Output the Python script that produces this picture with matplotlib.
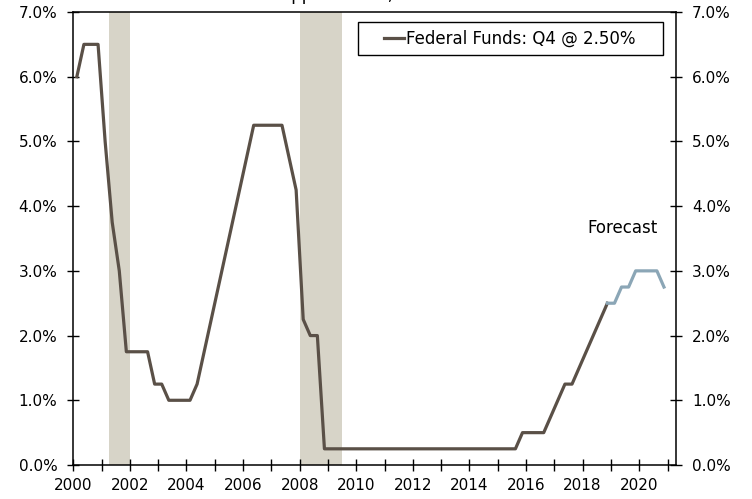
import numpy as np
import matplotlib
matplotlib.use("Agg")
import matplotlib.pyplot as plt
from matplotlib.ticker import MultipleLocator, FuncFormatter
from matplotlib.patches import Rectangle

# quarterly fed funds upper bound, 2000Q1 - 2018Q4
fed_funds = [
    6.00, 6.50, 6.50, 6.50,   # 2000
    5.00, 3.75, 3.00, 1.75,   # 2001
    1.75, 1.75, 1.75, 1.25,   # 2002
    1.25, 1.00, 1.00, 1.00,   # 2003
    1.00, 1.25, 1.75, 2.25,   # 2004
    2.75, 3.25, 3.75, 4.25,   # 2005
    4.75, 5.25, 5.25, 5.25,   # 2006
    5.25, 5.25, 4.75, 4.25,   # 2007
    2.25, 2.00, 2.00, 0.25,   # 2008
    0.25, 0.25, 0.25, 0.25,   # 2009
    0.25, 0.25, 0.25, 0.25,   # 2010
    0.25, 0.25, 0.25, 0.25,   # 2011
    0.25, 0.25, 0.25, 0.25,   # 2012
    0.25, 0.25, 0.25, 0.25,   # 2013
    0.25, 0.25, 0.25, 0.25,   # 2014
    0.25, 0.25, 0.25, 0.50,   # 2015
    0.50, 0.50, 0.50, 0.75,   # 2016
    1.00, 1.25, 1.25, 1.50,   # 2017
    1.75, 2.00, 2.25, 2.50,   # 2018
]
# forecast 2018Q4 - 2020Q4
forecast = [2.50, 2.50, 2.75, 2.75, 3.00, 3.00, 3.00, 3.00, 2.75]

recessions = [(2001.25, 2002.0), (2008.0, 2009.5)]

legend_label = "Federal Funds: Q4 @ 2.50%"
title_text = "Upper Bound, Percent"

line_color = "#5a5047"
fc_color = "#8ba6b6"
shade_color = "#d7d4c8"

x_hist = 2000 + np.arange(len(fed_funds)) / 4 + 0.125
x_fc = x_hist[-1] + np.arange(len(forecast)) / 4

plt.rcParams['font.family'] = ['DejaVu Sans']

fig = plt.figure(figsize=(7.52, 4.99), dpi=100)
ax = fig.add_axes([73.3 / 752, 34 / 499, (676 - 73.3) / 752, (465 - 12) / 499])

for start, end in recessions:
    ax.axvspan(start, end, facecolor=shade_color, edgecolor='none', zorder=1)

ax.plot(x_hist, fed_funds, color=line_color, lw=2.3, label=legend_label, zorder=3)
ax.plot(x_fc, forecast, color=fc_color, lw=2.3, zorder=3)

ax.text(2019.4, 3.66, "Forecast", fontsize=12, ha='center', va='center')

ax.set_xlim(2000, 2021.3)
ax.set_ylim(0, 7)
ax.xaxis.set_major_locator(MultipleLocator(2))
ax.xaxis.set_minor_locator(MultipleLocator(1))
ax.yaxis.set_major_locator(MultipleLocator(1))
ax.xaxis.set_major_formatter(FuncFormatter(lambda v, p: "%d" % v))
ax.yaxis.set_major_formatter(FuncFormatter(lambda v, p: "%.1f%%" % v))

ax.tick_params(axis='y', which='both', direction='inout', length=9, width=1,
               left=True, right=True, labelleft=True, labelright=True,
               labelsize=11, pad=7)
ax.tick_params(axis='x', which='both', direction='inout', length=9, width=1,
               labelsize=11, pad=5)

for s in ax.spines.values():
    s.set_linewidth(1.1)
    s.set_color('black')

# legend box drawn separately to match its wide padding
box = Rectangle((0.4724, 0.905), 0.9784 - 0.4724, 0.978 - 0.905,
                transform=ax.transAxes, facecolor='white', edgecolor='black',
                lw=1.0, zorder=4)
ax.add_patch(box)
leg = ax.legend(loc='center left', bbox_to_anchor=(0.516, 0.9415), fontsize=12,
                frameon=False, handlelength=1.2, handletextpad=0.1,
                borderpad=0, borderaxespad=0)
leg.set_zorder(5)

fig.text(370 / 752, 1.0, title_text, fontsize=12, ha='center', va='baseline')

fig.savefig("out.png", dpi=100)
